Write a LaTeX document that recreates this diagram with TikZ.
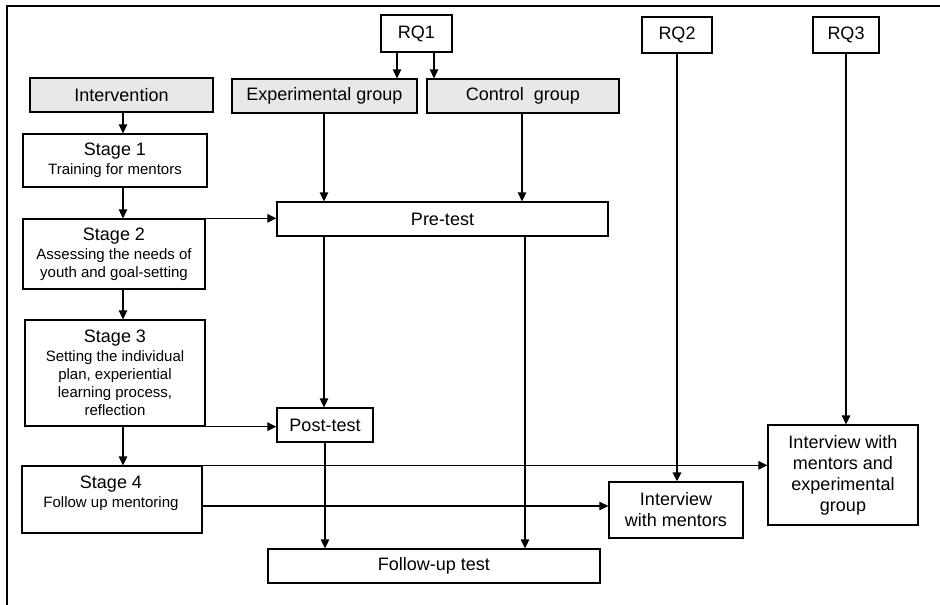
\documentclass[tikz,border=0pt]{standalone}
\usepackage{fontspec}
\setmainfont{Liberation Sans}
\usetikzlibrary{arrows.meta}
\definecolor{boxgray}{RGB}{232,232,232}
\newcommand{\bigf}{\fontsize{18}{21}\selectfont}
\newcommand{\smallf}{\fontsize{15}{17.5}\selectfont}
\begin{document}
\begin{tikzpicture}[x=1pt,y=-1pt,
  box/.style={draw,line width=1.3pt,inner sep=0pt,align=center,font=\bigf},
  grey/.style={box,fill=boxgray},
  txt/.style={inner sep=0pt,align=center},
  arr/.style={line width=1.3pt,-{Triangle[length=9pt,width=8.5pt]}},
  thickarr/.style={line width=2pt,-{Triangle[length=9pt,width=8.5pt]}}]
\useasboundingbox (0,0) rectangle (940,605);
% frame
\draw[line width=1.3pt] (7,605) -- (7,6) -- (940,6);
% nodes
\node[box,minimum width=71pt,minimum height=37pt] (rq1) at (416.5,33.5) {RQ1};
\node[box,minimum width=70pt,minimum height=36pt] (rq2) at (677,35) {RQ2};
\node[box,minimum width=66pt,minimum height=36pt] (rq3) at (846,35) {RQ3};
\node[grey,minimum width=183pt,minimum height=34pt] (intv) at (121.5,95) {Intervention};
\node[grey,minimum width=185pt,minimum height=34pt] (exp) at (324.5,96) {Experimental group};
\node[grey,minimum width=192pt,minimum height=34pt] (ctrl) at (523,96) {Control\ \ group};
\node[box,minimum width=184pt,minimum height=53pt] (s1) at (115,160.5) {Stage 1\\[-2pt]{\smallf Training for mentors}};
\node[box,minimum width=182pt,minimum height=70pt] (s2) at (114,254) {Stage 2\\[-2pt]{\smallf Assessing the needs of}\\[-3pt]{\smallf youth and goal-setting}};
\node[box,minimum width=331pt,minimum height=34pt] (pre) at (442.5,219) {Pre-test};
\node[box,minimum width=180pt,minimum height=106pt] (s3) at (115,373) {Stage 3\\[-2pt]{\smallf Setting the individual}\\[-3pt]{\smallf plan, experiential}\\[-3pt]{\smallf learning process,}\\[-3pt]{\smallf reflection}};
\node[box,minimum width=96pt,minimum height=34pt] (post) at (325,425) {Post-test};
\node[box,minimum width=180pt,minimum height=67pt] (s4) at (112,499.5) {};
\node[txt,font=\bigf] (s4t) at (111,493) {Stage 4\\[-2pt]{\smallf Follow up mentoring}};
\node[box,minimum width=332pt,minimum height=34pt] (fol) at (434,566) {Follow-up test};
\node[box,minimum width=134pt,minimum height=56pt] (im) at (676,510) {Interview\\with mentors};
\node[box,minimum width=150pt,minimum height=100pt] (ime) at (843,475) {Interview with\\mentors and\\experimental\\group};
% connectors
\draw[arr] ([xshift=-19.5pt]rq1.south) -- ([xshift=-19.5pt]rq1.south |- exp.north);
\draw[arr] ([xshift=17.5pt]rq1.south) -- ([xshift=17.5pt]rq1.south |- ctrl.north);
\draw[arr] ([xshift=1.5pt]intv.south) -- ([xshift=1.5pt]intv.south |- s1.north);
\draw[arr] ([xshift=8pt]s1.south) -- ([xshift=8pt]s1.south |- s2.north);
\draw[arr] ([xshift=9pt]s2.south) -- ([xshift=9pt]s2.south |- s3.north);
\draw[arr] ([xshift=8pt]s3.south) -- ([xshift=8pt]s3.south |- s4.north);
\draw[arr] (s2.north east) -- (s2.north east -| pre.west);
\draw[arr] ([xshift=-0.5pt]exp.south) -- ([xshift=-0.5pt]exp.south |- pre.north);
\draw[arr] ([xshift=-1pt]ctrl.south) -- ([xshift=-1pt]ctrl.south |- pre.north);
\draw[arr] ([xshift=-0.5pt]exp.south |- pre.south) -- ([xshift=-0.5pt]exp.south |- post.north);
\draw[arr] ([xshift=82.5pt]pre.south) -- ([xshift=82.5pt]pre.south |- fol.north);
\draw[arr] (s3.south east) -- (s3.south east -| post.west);
\draw[arr] (post.south) -- (post.south |- fol.north);
\draw[arr] (s4.north east) -- (s4.north east -| ime.west);
\draw[arr] ([yshift=-6.5pt]s4.east) -- ([yshift=-6.5pt]s4.east -| im.west);
\draw[thickarr] (rq2.south) -- (rq2.south |- im.north);
\draw[arr] (rq3.south) -- (rq3.south |- ime.north);
\end{tikzpicture}
\end{document}
